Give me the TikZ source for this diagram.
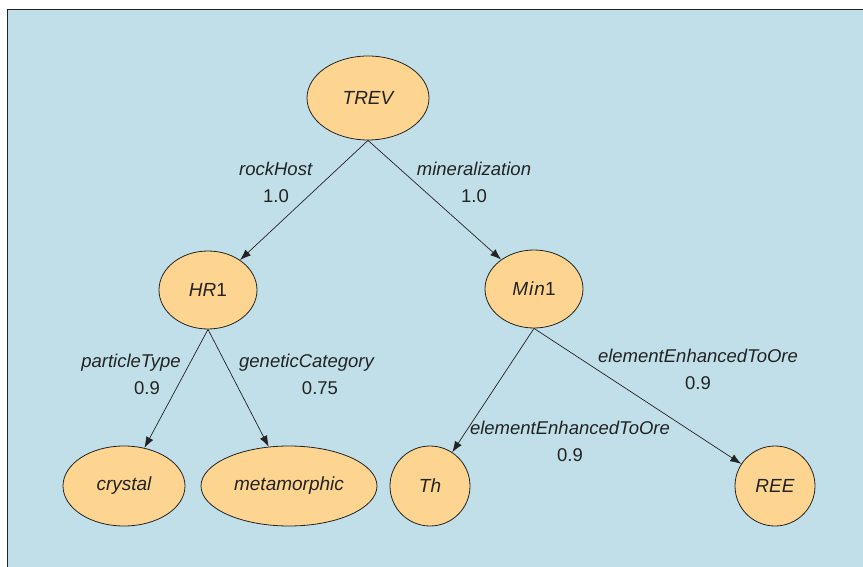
\documentclass[tikz,border=0pt]{standalone}
\usepackage{fontspec}
\setmainfont{Liberation Sans}
\usetikzlibrary{shapes.geometric,arrows.meta}
\definecolor{panelblue}{RGB}{192,223,233}
\definecolor{nodefill}{RGB}{253,213,144}
\definecolor{inkgray}{RGB}{35,35,35}
\tikzset{
  onto/.style={ellipse,draw=inkgray,line width=0.8pt,fill=nodefill,inner sep=0pt,
    text=inkgray,font=\fontsize{19}{22}\selectfont\itshape},
  edgelabel/.style={align=center,text=inkgray,font=\fontsize{18.5}{27}\selectfont,inner sep=0pt},
  link/.style={draw=inkgray,line width=0.7pt,-{Latex[length=11pt,width=8pt]}}
}
\begin{document}
\begin{tikzpicture}[x=1pt,y=-1pt]
\useasboundingbox (0,0) rectangle (863,567);
\fill[white] (0,0) rectangle (863,567);
\fill[panelblue] (7,9) rectangle (863,567);
\draw[inkgray,line width=0.8pt] (7,567) -- (7,9) -- (863,9);

\node[onto,minimum width=122pt,minimum height=84pt] (trev) at (368,98) {TREV};
\node[onto,minimum width=98pt,minimum height=78pt] (hr) at (208,290) {HR\upshape 1};
\node[onto,minimum width=98pt,minimum height=78pt] (min) at (534,289) {M\kern1pt i\kern1pt n\upshape 1};
\node[onto,minimum width=122pt,minimum height=80pt] (crystal) at (124,486) {crystal};
\node[onto,minimum width=176pt,minimum height=80pt] (meta) at (289,486) {metamorphic};
\node[onto,minimum width=80pt,minimum height=80pt] (th) at (430,486) {Th};
\node[onto,minimum width=80pt,minimum height=80pt] (ree) at (775,486) {REE};

\draw[link] (trev.south) -- (hr);
\draw[link] (trev.south) -- (min);
\draw[link] (hr.south) -- (crystal);
\draw[link] (hr.south) -- (meta);
\draw[link] (min.south) -- (th);
\draw[link] (min.south) -- (ree);

\node[edgelabel] (l1) at (276,182) {\textit{rockHost}\\1.0};
\node[edgelabel] (l2) at (474,182) {\textit{mineralization}\\1.0};
\node[edgelabel] (l3) at (131,374) {\textit{particleType}\\\hspace*{32pt}0.9};
\node[edgelabel] (l4) at (307,374) {\textit{geneticCategory}\\\hspace*{26pt}0.75};
\node[edgelabel] (l5) at (698,369) {\textit{elementEnhancedToOre}\\0.9};
\node[edgelabel] (l6) at (570,441) {\textit{elementEnhancedToOre}\\0.9};
\end{tikzpicture}
\end{document}
